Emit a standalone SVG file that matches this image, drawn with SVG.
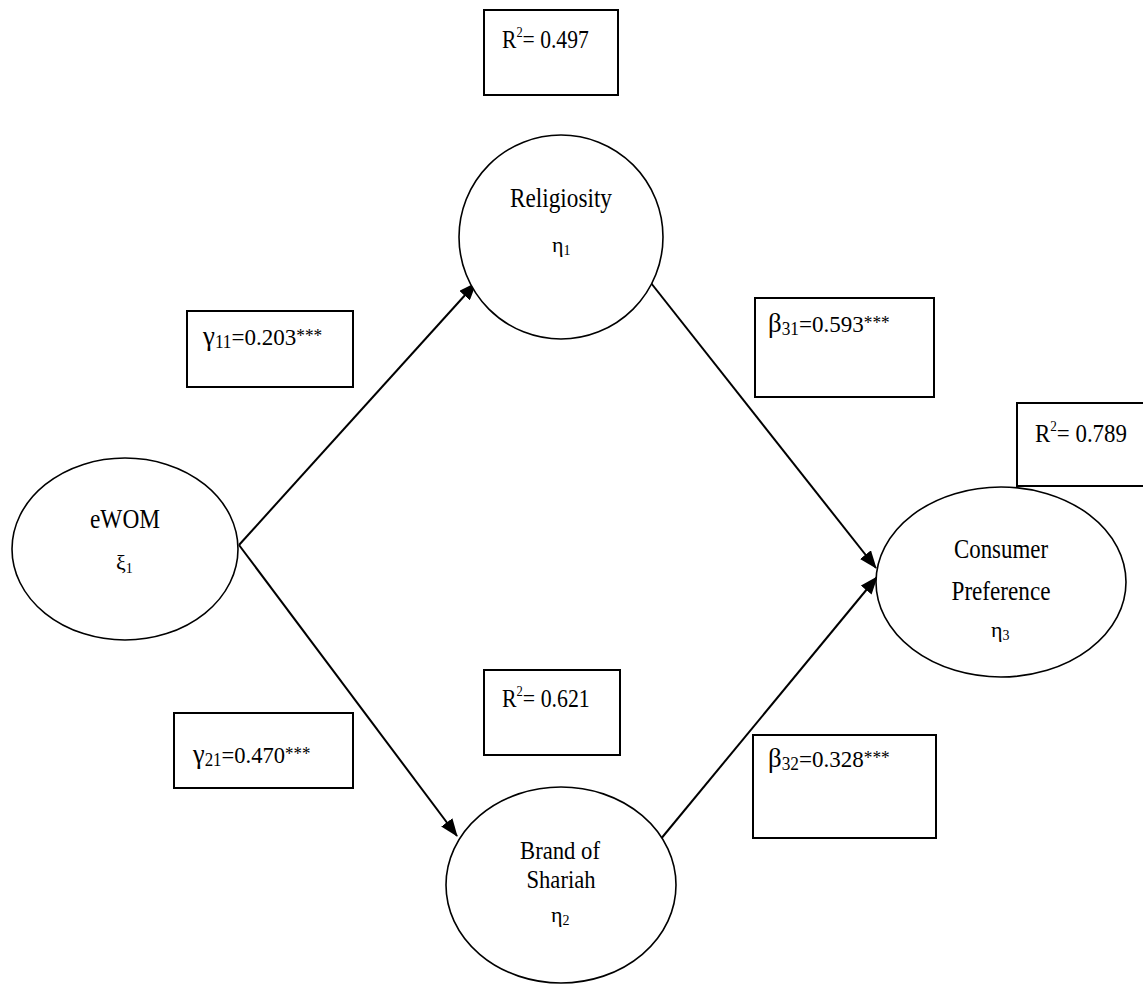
<svg xmlns="http://www.w3.org/2000/svg" width="1143" height="987" viewBox="0 0 1143 987">
<defs>
<style>
.node{fill:#fff;stroke:#000;stroke-width:1.6}
.box{fill:#fff;stroke:#000;stroke-width:2}
.edge{stroke:#000;stroke-width:2;fill:none;marker-end:url(#ah)}
text{font-family:"Liberation Serif","Times New Roman",serif;fill:#000}
.big{font-size:27px}
.mid{font-size:25px}
.gk{font-size:22px}
.sub{font-size:14px}
.r{font-size:26px}
.sup{font-size:15px}
.gr{font-size:28px}
.sm{font-size:18px}
.num{font-size:24px}
.st{font-size:18px}
</style>
<marker id="ah" markerWidth="18" markerHeight="14" refX="17" refY="7" orient="auto" markerUnits="userSpaceOnUse">
<path d="M0,0 L18,7 L0,14 Z" fill="#000"/>
</marker>
</defs>
<rect width="1143" height="987" fill="#fff"/>
<g id="connectors">
<line class="edge" x1="239" y1="545" x2="476" y2="283"/>
<line class="edge" x1="239" y1="545" x2="457" y2="836"/>
<line class="edge" x1="651" y1="283" x2="876" y2="568"/>
<line class="edge" x1="660" y1="840" x2="877" y2="577"/>
</g>
<g id="r2-religiosity">
<rect class="box" x="484" y="10" width="134" height="85"/>
<text class="r" transform="translate(502,48) scale(0.83,1)">R<tspan class="sup" dy="-11">2</tspan><tspan dy="11">= 0.497</tspan></text>
</g>
<g id="religiosity">
<ellipse class="node" cx="561" cy="237" rx="102" ry="102"/>
<text class="big" x="561" y="207" text-anchor="middle" textLength="102" lengthAdjust="spacingAndGlyphs">Religiosity</text>
<text class="gk" x="552" y="252">η<tspan class="sub" dy="3">1</tspan></text>
</g>
<g id="gamma11">
<rect class="box" x="187" y="311" width="166" height="76"/>
<text transform="translate(203,345) scale(0.96,1)"><tspan class="gr">γ</tspan><tspan class="sm" dy="3">11</tspan><tspan class="num" dy="-3">=0.203</tspan><tspan class="st" dy="-3">***</tspan></text>
</g>
<g id="beta31">
<rect class="box" x="755" y="298" width="179" height="99"/>
<text transform="translate(768,332) scale(0.96,1)"><tspan class="gr">β</tspan><tspan class="sm" dy="3">31</tspan><tspan class="num" dy="-3">=0.593</tspan><tspan class="st" dy="-3">***</tspan></text>
</g>
<g id="r2-consumer">
<rect class="box" x="1017" y="403" width="140" height="83"/>
<text class="r" transform="translate(1035,442) scale(0.88,1)">R<tspan class="sup" dy="-11">2</tspan><tspan dy="11">= 0.789</tspan></text>
</g>
<g id="ewom">
<ellipse class="node" cx="125" cy="549" rx="113" ry="91"/>
<text class="big" x="125" y="528" text-anchor="middle" textLength="70" lengthAdjust="spacingAndGlyphs">eWOM</text>
<text class="gk" x="116" y="570">ξ<tspan class="sub" dy="3">1</tspan></text>
</g>
<g id="consumer-preference">
<ellipse class="node" cx="1001" cy="582" rx="125" ry="95"/>
<text class="big" x="1001" y="558" text-anchor="middle" textLength="94" lengthAdjust="spacingAndGlyphs">Consumer</text>
<text class="big" x="1001" y="600" text-anchor="middle" textLength="99" lengthAdjust="spacingAndGlyphs">Preference</text>
<text class="gk" x="991" y="637">η<tspan class="sub" dy="3">3</tspan></text>
</g>
<g id="r2-brand">
<rect class="box" x="484" y="670" width="136" height="85"/>
<text class="r" transform="translate(502,707) scale(0.84,1)">R<tspan class="sup" dy="-11">2</tspan><tspan dy="11">= 0.621</tspan></text>
</g>
<g id="gamma21">
<rect class="box" x="174" y="713" width="179" height="75"/>
<text transform="translate(193,763) scale(0.94,1)"><tspan class="gr">γ</tspan><tspan class="sm" dy="3">21</tspan><tspan class="num" dy="-3">=0.470</tspan><tspan class="st" dy="-3">***</tspan></text>
</g>
<g id="beta32">
<rect class="box" x="753" y="735" width="183" height="103"/>
<text transform="translate(768,767) scale(0.96,1)"><tspan class="gr">β</tspan><tspan class="sm" dy="3">32</tspan><tspan class="num" dy="-3">=0.328</tspan><tspan class="st" dy="-3">***</tspan></text>
</g>
<g id="brand-of-shariah">
<ellipse class="node" cx="561" cy="885" rx="115" ry="98"/>
<text class="mid" x="560" y="859" text-anchor="middle" textLength="80" lengthAdjust="spacingAndGlyphs">Brand of</text>
<text class="mid" x="561" y="888" text-anchor="middle" textLength="69" lengthAdjust="spacingAndGlyphs">Shariah</text>
<text class="gk" x="551" y="922">η<tspan class="sub" dy="3">2</tspan></text>
</g>
</svg>
